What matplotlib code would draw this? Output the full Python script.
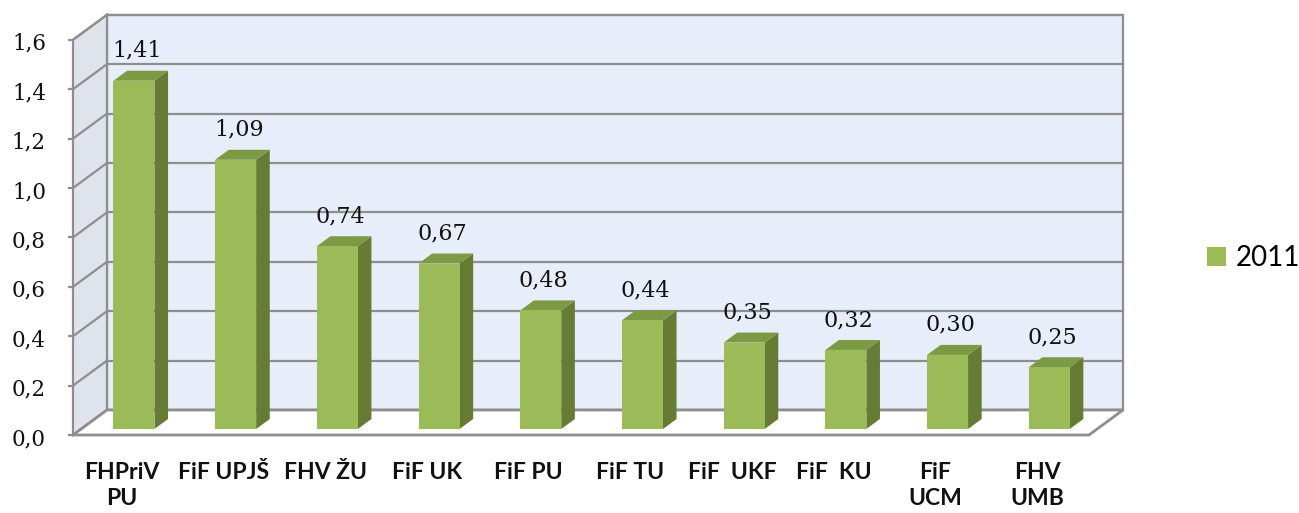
import matplotlib
matplotlib.use("Agg")
import matplotlib.pyplot as plt
from matplotlib.patches import Polygon, Patch

categories = ["FHPriV\nPU", "FiF UPJŠ", "FHV ŽU", "FiF UK", "FiF PU", "FiF TU",
              "FiF  UKF", "FiF  KU", "FiF\nUCM", "FHV\nUMB"]
values = [1.41, 1.09, 0.74, 0.67, 0.48, 0.44, 0.35, 0.32, 0.30, 0.25]
value_labels = ["1,41", "1,09", "0,74", "0,67", "0,48", "0,44", "0,35", "0,32", "0,30", "0,25"]
yticks = [0.0, 0.2, 0.4, 0.6, 0.8, 1.0, 1.2, 1.4, 1.6]
ytick_labels = ["0,0", "0,2", "0,4", "0,6", "0,8", "1,0", "1,2", "1,4", "1,6"]
series_name = "2011"

W, H = 1299, 513
PX = 101.7   # pixels per category
PY = 247.0   # pixels per unit value
X0 = 125.8   # pixel of category 0 on front plane
Y0 = 435.0   # pixel (from top) of value 0 on front plane
DXu = 34 / PX   # full depth offset in x (data units)
DYu = 25 / PY   # full depth offset in y (data units)

fig = plt.figure(figsize=(W / 100, H / 100), dpi=100)
ax = fig.add_axes([0, 0, 1, 1])
ax.set_xlim(-X0 / PX, (W - X0) / PX)
ax.set_ylim((Y0 - H) / PY, Y0 / PY)
ax.axis("off")


def P(x, y, d):
    return (x + d * DXu, y + d * DYu)


ymax = yticks[-1]
xl = (73 - X0) / PX          # left front edge
xr = (1089 - X0) / PX        # right front edge of floor

back_col = "#E8EEF9"
side_col = "#DFE3EC"
grid_col = "#8E8E8E"

# back wall
ax.add_patch(Polygon([P(xl, 0, 1), P(xr, 0, 1), P(xr, ymax, 1), P(xl, ymax, 1)],
                     closed=True, facecolor=back_col, edgecolor=grid_col, lw=1.6, zorder=1))
# side wall
ax.add_patch(Polygon([P(xl, 0, 0), P(xl, 0, 1), P(xl, ymax, 1), P(xl, ymax, 0)],
                     closed=True, facecolor=side_col, edgecolor=grid_col, lw=1.6, zorder=1))
# gridlines and tick labels
for t, lab in zip(yticks, ytick_labels):
    (ax0, ay0), (ax1, ay1) = P(xl, t, 0), P(xl, t, 1)
    ax.plot([ax0, ax1], [ay0, ay1], color=grid_col, lw=1.6, zorder=2)
    (bx0, by0), (bx1, by1) = P(xl, t, 1), P(xr, t, 1)
    ax.plot([bx0, bx1], [by0, by1], color=grid_col, lw=1.6, zorder=2)
    ax.plot([ax0 - 4 / PX, ax0], [ay0, ay0], color=grid_col, lw=1.6, zorder=2)
    ax.text((46 - X0) / PX, t - 4 / PY, lab, ha="right", va="center",
            fontsize=15.5, family="DejaVu Serif", color="#111111", zorder=5)

# floor
ax.add_patch(Polygon([P(xl, 0, 0), P(xr, 0, 0), P(xr, 0, 1), P(xl, 0, 1)],
                     closed=True, facecolor="white", edgecolor=grid_col, lw=2.0, zorder=3))

# bars
face_col = "#9BBB59"
side_bar = "#667C35"
top_bar = "#7C9A43"
w = 41 / PX
d0, d1 = 0.24, 0.64
for i, v in enumerate(values):
    c = i
    xa, xb = c - w / 2, c + w / 2
    ax.add_patch(Polygon([P(xb, 0, d0), P(xb, v, d0), P(xb, v, d1), P(xb, 0, d1)],
                         closed=True, facecolor=side_bar, edgecolor="none", zorder=4))
    ax.add_patch(Polygon([P(xa, v, d0), P(xb, v, d0), P(xb, v, d1), P(xa, v, d1)],
                         closed=True, facecolor=top_bar, edgecolor="none", zorder=4))
    ax.add_patch(Polygon([P(xa, 0, d0), P(xb, 0, d0), P(xb, v, d0), P(xa, v, d0)],
                         closed=True, facecolor=face_col, edgecolor="none", zorder=4))
    lx, ly = P(c, v, d0)
    ax.text(lx + 3 / PX, ly + 30 / PY, value_labels[i], ha="center", va="center",
            fontsize=16, family="DejaVu Serif", color="#111111", zorder=6)
    ax.text(c + (122 - 134) / PX + d0 * DXu, (Y0 - 462) / PY, categories[i], ha="center", va="top",
            fontsize=16.5, family="Lato", fontweight="bold", linespacing=1.3,
            color="#111111", zorder=6)

ax.legend(handles=[Patch(facecolor=face_col, edgecolor="none", label=series_name)],
          loc="center left", bbox_to_anchor=(1207 / W, 1 - 258 / H),
          bbox_transform=fig.transFigure, frameon=False,
          handlelength=0.7, handleheight=0.7, handletextpad=0.35, borderpad=0,
          borderaxespad=0, prop={"family": "Lato", "size": 20})

fig.savefig("out.png", dpi=100)
